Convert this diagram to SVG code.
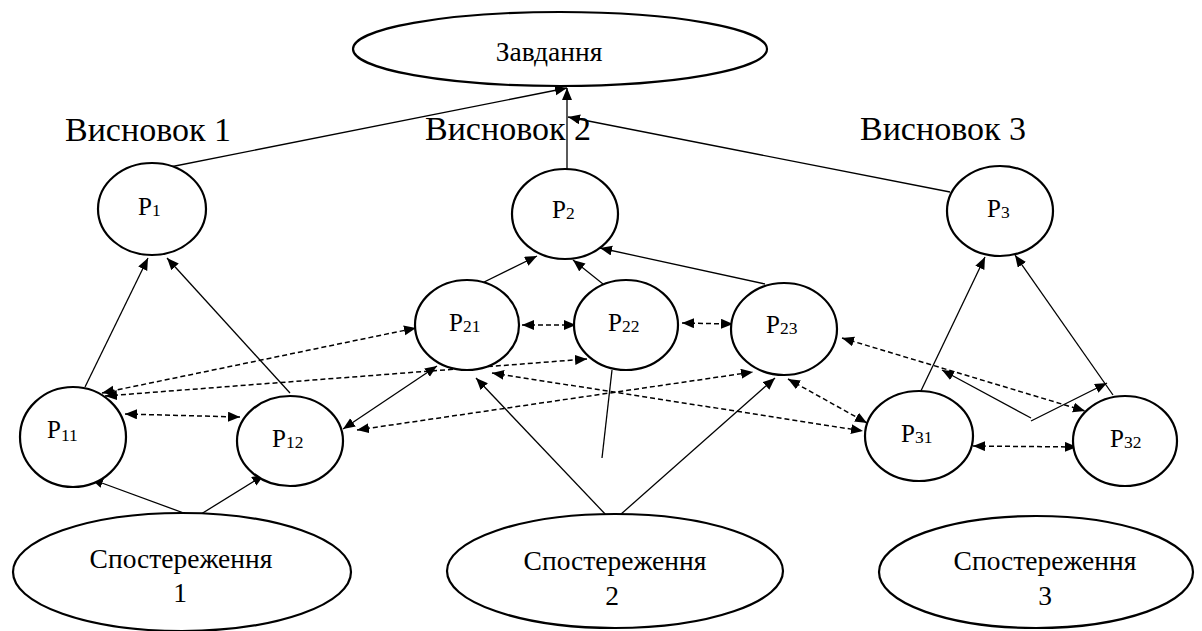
<svg xmlns="http://www.w3.org/2000/svg" width="1202" height="631" viewBox="0 0 1202 631">
<defs>
<marker id="ah" markerUnits="userSpaceOnUse" markerWidth="14" markerHeight="12" refX="12" refY="5" orient="auto-start-reverse" viewBox="0 0 14 12">
<path d="M0,0 L12,5 L0,10 z" fill="#000"/>
</marker>
<style>
.n{fill:#fff;stroke:#000;stroke-width:2.2}
.t{font-family:'Liberation Serif','DejaVu Serif','Noto Serif',serif;fill:#000}
.c{stroke:#000;stroke-width:1.3;fill:none}
.d{stroke:#000;stroke-width:1.5;fill:none;stroke-dasharray:5,3}
.e{marker-end:url(#ah)}
.b{marker-start:url(#ah);marker-end:url(#ah)}
.big{font-size:34px}
.mid{font-size:27.5px}
.p{font-size:25px}
.s{font-size:17.5px}
</style>
</defs>
<rect width="1202" height="631" fill="#fff"/>

<g id="titles" class="t big">
<text x="65" y="141">Висновок 1</text>
<text x="425" y="140">Висновок 2</text>
<text x="860" y="140">Висновок 3</text>
</g>

<g id="connectors">
<line class="c e" x1="170" y1="167" x2="567" y2="88"/>
<line class="c e" x1="567" y1="169" x2="567" y2="88"/>
<line class="c e" x1="950" y1="192" x2="568" y2="117"/>
<line class="c e" x1="85" y1="387" x2="148" y2="258"/>
<line class="c e" x1="290" y1="393" x2="167" y2="258"/>
<line class="c e" x1="200" y1="519" x2="91" y2="479"/>
<line class="c e" x1="185" y1="524" x2="264" y2="475"/>
<line class="c e" x1="472" y1="288" x2="537" y2="256"/>
<line class="c e" x1="608" y1="288" x2="573" y2="260"/>
<line class="c e" x1="765" y1="284" x2="600" y2="248"/>
<line class="c e" x1="918" y1="397" x2="985" y2="257"/>
<line class="c e" x1="1113" y1="395" x2="1015" y2="255"/>
<line class="c e" x1="607" y1="516" x2="476" y2="378"/>
<line class="c e" x1="620" y1="515" x2="775" y2="378"/>
<line class="c" x1="612" y1="370" x2="602" y2="458"/>
<line class="c b" x1="343" y1="429" x2="437" y2="366"/>
<line class="c e" x1="1031" y1="418" x2="942" y2="370"/>
<line class="c e" x1="1031" y1="421" x2="1107" y2="383"/>
<line class="d b" x1="125" y1="414" x2="240" y2="417"/>
<line class="d b" x1="102" y1="393" x2="416" y2="328"/>
<line class="d b" x1="105" y1="396" x2="587" y2="359"/>
<line class="d b" x1="522" y1="325" x2="576" y2="325"/>
<line class="d b" x1="682" y1="323" x2="733" y2="324"/>
<line class="d b" x1="357" y1="430" x2="753" y2="372"/>
<line class="d b" x1="492" y1="373" x2="863" y2="431"/>
<line class="d b" x1="788" y1="379" x2="867" y2="423"/>
<line class="d b" x1="842" y1="338" x2="1085" y2="411"/>
<line class="d b" x1="973" y1="446" x2="1077" y2="447"/>
</g>

<g id="zavdannya">
<ellipse class="n" cx="560" cy="49" rx="207" ry="37"/>
<text class="t mid" x="549" y="61" text-anchor="middle">Завдання</text>
</g>

<g id="P1">
<ellipse class="n" cx="152" cy="209" rx="54" ry="46"/>
<text class="t p" x="138" y="215">P<tspan class="s" dy="1">1</tspan></text>
</g>
<g id="P2">
<ellipse class="n" cx="565" cy="214" rx="53" ry="45"/>
<text class="t p" x="552" y="218">P<tspan class="s" dy="1">2</tspan></text>
</g>
<g id="P3">
<ellipse class="n" cx="1000" cy="211" rx="53" ry="45"/>
<text class="t p" x="987" y="217">P<tspan class="s" dy="1">3</tspan></text>
</g>
<g id="P21">
<ellipse class="n" cx="467" cy="325" rx="52" ry="45"/>
<text class="t p" x="449" y="331">P<tspan class="s" dy="1">21</tspan></text>
</g>
<g id="P22">
<ellipse class="n" cx="626" cy="325" rx="52" ry="45"/>
<text class="t p" x="608" y="331">P<tspan class="s" dy="1">22</tspan></text>
</g>
<g id="P23">
<ellipse class="n" cx="784" cy="329" rx="53" ry="46"/>
<text class="t p" x="766" y="333">P<tspan class="s" dy="1">23</tspan></text>
</g>
<g id="P11">
<ellipse class="n" cx="73" cy="437" rx="53" ry="50"/>
<text class="t p" x="47" y="438">P<tspan class="s" dy="3">11</tspan></text>
</g>
<g id="P12">
<ellipse class="n" cx="290" cy="441" rx="53" ry="45"/>
<text class="t p" x="272" y="447">P<tspan class="s" dy="1">12</tspan></text>
</g>
<g id="P31">
<ellipse class="n" cx="919" cy="436" rx="54" ry="45"/>
<text class="t p" x="901" y="442">P<tspan class="s" dy="1">31</tspan></text>
</g>
<g id="P32">
<ellipse class="n" cx="1125" cy="441" rx="52" ry="45"/>
<text class="t p" x="1110" y="447">P<tspan class="s" dy="1">32</tspan></text>
</g>

<g id="S1">
<ellipse class="n" cx="182" cy="572" rx="169" ry="59"/>
<text class="t mid" x="181" y="568" text-anchor="middle">Спостереження</text>
<text class="t mid" x="180" y="602" text-anchor="middle">1</text>
</g>
<g id="S2">
<ellipse class="n" cx="615" cy="571" rx="168" ry="57"/>
<text class="t mid" x="615" y="570" text-anchor="middle">Спостереження</text>
<text class="t mid" x="612" y="605" text-anchor="middle">2</text>
</g>
<g id="S3">
<ellipse class="n" cx="1036" cy="572" rx="157" ry="56"/>
<text class="t mid" x="1045" y="570" text-anchor="middle">Спостереження</text>
<text class="t mid" x="1045" y="605" text-anchor="middle">3</text>
</g>
</svg>
